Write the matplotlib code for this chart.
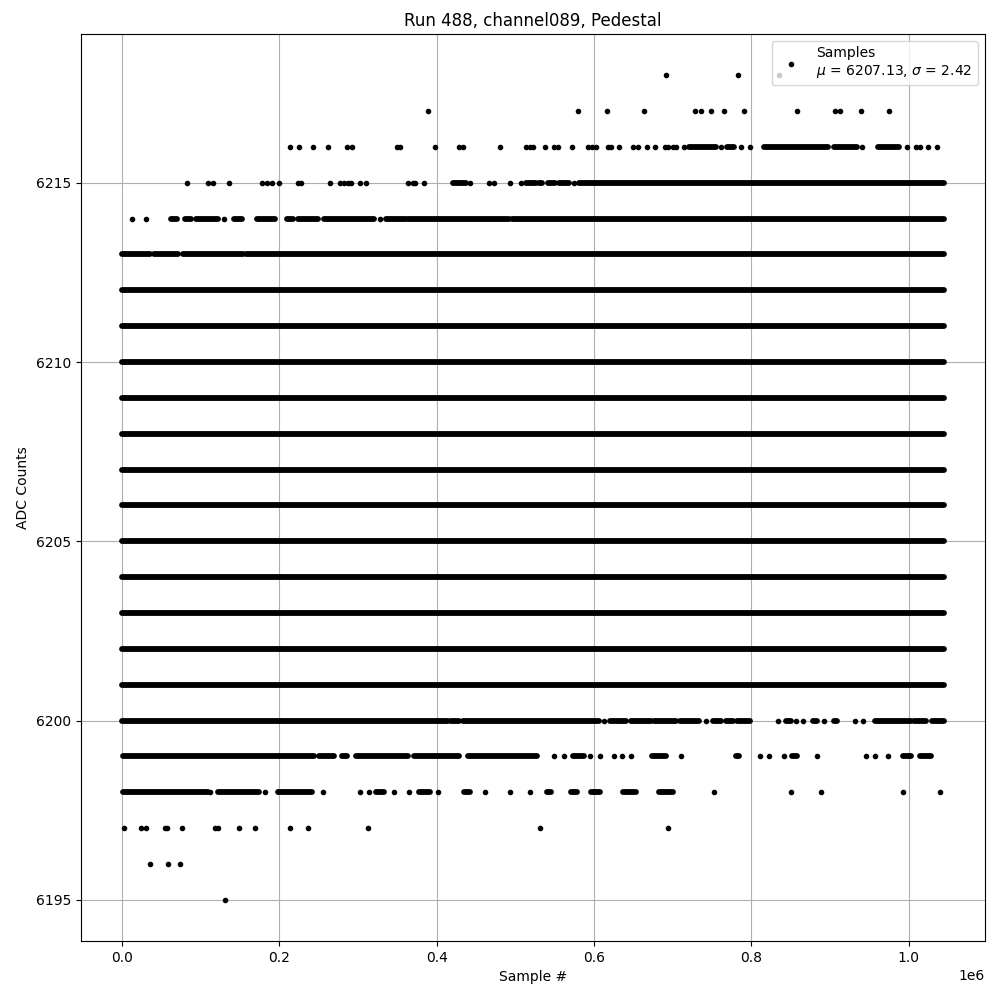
import numpy as np
import matplotlib
matplotlib.use("Agg")
import matplotlib.pyplot as plt
from matplotlib.collections import LineCollection

# sample positions are in units of 1e6 samples
# levels that are filled over the whole run
full_levels = [6202, 6203, 6204, 6205, 6206, 6207, 6208, 6209, 6210, 6211, 6212]
full_start = 0.0
full_end = 1.045

runs_6213 = [(0.0, 0.036), (0.041, 0.071), (0.077, 0.154), (0.158, 1.045)]
runs_6214 = [(0.062, 0.070), (0.080, 0.088), (0.094, 0.122), (0.142, 0.152), (0.172, 0.194),
             (0.210, 0.217), (0.224, 0.249), (0.257, 0.320), (0.335, 0.361), (0.363, 0.492),
             (0.496, 1.045)]
pts_6214 = [0.012, 0.031, 0.129, 0.328]
runs_6215 = [(0.421, 0.437), (0.513, 0.526), (0.530, 0.534), (0.541, 0.551), (0.556, 0.568),
             (0.581, 1.045)]
pts_6215 = [0.083, 0.109, 0.116, 0.136, 0.178, 0.184, 0.190, 0.200, 0.224, 0.227, 0.264,
            0.277, 0.282, 0.287, 0.291, 0.302, 0.310, 0.364, 0.370, 0.373, 0.384, 0.443,
            0.466, 0.473, 0.493, 0.507, 0.575]
runs_6216 = [(0.721, 0.755), (0.769, 0.778), (0.816, 0.897), (0.905, 0.935), (0.961, 0.988)]
pts_6216 = [0.213, 0.225, 0.243, 0.262, 0.286, 0.292, 0.350, 0.353, 0.398, 0.429, 0.433,
            0.480, 0.513, 0.519, 0.523, 0.538, 0.549, 0.554, 0.572, 0.592, 0.598, 0.602,
            0.618, 0.622, 0.632, 0.650, 0.656, 0.667, 0.678, 0.690, 0.694, 0.700, 0.704,
            0.714, 0.762, 0.787, 0.798, 0.941, 0.998, 1.010, 1.015, 1.025, 1.036]
pts_6217 = [0.389, 0.580, 0.617, 0.664, 0.729, 0.736, 0.749, 0.765, 0.791, 0.858, 0.906,
            0.913, 0.940, 0.975]
pts_6218 = [0.691, 0.783, 0.835]

runs_6201 = [(0.0, 1.045)]
runs_6200 = [(0.0, 0.414), (0.418, 0.428), (0.434, 0.607), (0.621, 0.641), (0.647, 0.672),
             (0.676, 0.704), (0.710, 0.734), (0.752, 0.761), (0.768, 0.777), (0.782, 0.798),
             (0.844, 0.851), (0.878, 0.883), (0.905, 0.909), (0.958, 1.003), (1.007, 1.022),
             (1.030, 1.045)]
pts_6200 = [0.613, 0.742, 0.834, 0.857, 0.866, 0.892, 0.932, 0.942]
runs_6199 = [(0.001, 0.244), (0.251, 0.270), (0.280, 0.286), (0.297, 0.363), (0.371, 0.428),
             (0.440, 0.528), (0.573, 0.587), (0.674, 0.691), (0.780, 0.784), (0.852, 0.858),
             (0.993, 1.003), (1.015, 1.028)]
pts_6199 = [0.549, 0.562, 0.595, 0.608, 0.626, 0.636, 0.647, 0.711, 0.811, 0.823, 0.842,
            0.884, 0.946, 0.957, 0.974]
runs_6198 = [(0.001, 0.109), (0.122, 0.174), (0.198, 0.241), (0.323, 0.333), (0.378, 0.392),
             (0.435, 0.443), (0.540, 0.546), (0.571, 0.579), (0.596, 0.608), (0.637, 0.653),
             (0.683, 0.700)]
pts_6198 = [0.112, 0.182, 0.256, 0.303, 0.314, 0.346, 0.365, 0.402, 0.462, 0.493, 0.519,
            0.753, 0.851, 0.889, 0.993, 1.040]
pts_6197 = [0.003, 0.024, 0.030, 0.054, 0.057, 0.076, 0.118, 0.122, 0.149, 0.169, 0.213,
            0.237, 0.313, 0.532, 0.694]
pts_6196 = [0.036, 0.058, 0.073]
pts_6195 = [0.131]

runs = {6213: runs_6213, 6214: runs_6214, 6215: runs_6215, 6216: runs_6216,
        6201: runs_6201, 6200: runs_6200, 6199: runs_6199, 6198: runs_6198}
points = {6214: pts_6214, 6215: pts_6215, 6216: pts_6216, 6217: pts_6217, 6218: pts_6218,
          6200: pts_6200, 6199: pts_6199, 6198: pts_6198, 6197: pts_6197, 6196: pts_6196,
          6195: pts_6195}
for lvl in full_levels:
    runs[lvl] = [(full_start, full_end)]

fig, ax = plt.subplots(figsize=(10, 10), dpi=100)

# stretches where the samples overlap into a solid band
segs = []
for lvl, rr in runs.items():
    for x0, x1 in rr:
        segs.append([(x0 * 1e6, lvl), (x1 * 1e6, lvl)])
lc = LineCollection(segs, colors='k', linewidths=4.2, capstyle='round')
ax.add_collection(lc)

# isolated samples
xs, ys = [], []
for lvl, pp in points.items():
    for x in pp:
        xs.append(x * 1e6)
        ys.append(lvl)
ax.plot(xs, ys, 'k.', label='Samples\n$\\mu$ = 6207.13, $\\sigma$ = 2.42')

ax.autoscale_view()
ax.set_title('Run 488, channel089, Pedestal')
ax.set_xlabel('Sample #')
ax.set_ylabel('ADC Counts')
ax.grid(True)
ax.legend(loc='upper right')

plt.subplots_adjust(left=0.081, right=0.985, top=0.966, bottom=0.059)
plt.savefig("out.png")
